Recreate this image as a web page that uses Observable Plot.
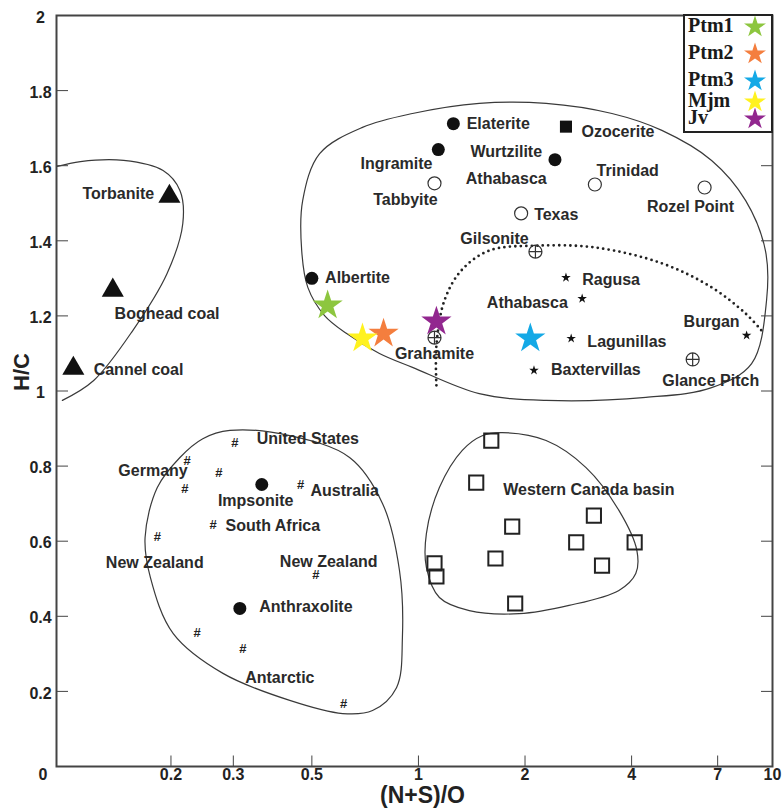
<!DOCTYPE html>
<html>
<head>
<meta charset="utf-8">
<script src="https://cdn.jsdelivr.net/npm/d3@7"></script>
<script src="https://cdn.jsdelivr.net/npm/@observablehq/plot@0.6"></script>
<style>
  body { margin: 0; background: #fff; }
  #wrap { position: relative; width: 783px; height: 812px; }
  #legend { position: absolute; left: 683px; top: 14px; width: 90px; height: 119px; box-sizing: border-box;
            border: 2px solid #222; background: #fff; }
  .lrow { position: absolute; left: 3px; font-family: "Liberation Serif", "Times New Roman", serif;
          font-weight: bold; font-size: 20px; color: #1a1a1a; line-height: 17px; }
  .lstar { position: absolute; }
</style>
</head>
<body>
<div id="wrap"></div>
<script>
// ---------- data ----------
const xTicks = [0.2, 0.3, 0.5, 1, 2, 4, 7];
const xTickLabels = [0.2, 0.3, 0.5, 1, 2, 4, 7, 10];
const yTicks = [0.2, 0.4, 0.6, 0.8, 1, 1.2, 1.4, 1.6, 1.8];
const yTickLabels = [0.2, 0.4, 0.6, 0.8, 1, 1.2, 1.4, 1.6, 1.8, 2];

// studied samples (large coloured stars)
const sampleNames  = ["Ptm1", "Ptm2", "Ptm3", "Mjm", "Jv"];
const sampleX      = [0.554, 0.797, 2.07, 0.695, 1.124];
const sampleY      = [1.228, 1.153, 1.140, 1.140, 1.185];
const sampleColors = ["#8dc63f", "#f47e3e", "#14a9e6", "#fff21f", "#92278f"];

// reference bitumens by symbol
const triangles = [ {x: 0.198, y: 1.518}, {x: 0.137, y: 1.268}, {x: 0.106, y: 1.060} ];
const filledCircles = [ {x: 1.255, y: 1.712}, {x: 1.138, y: 1.643}, {x: 2.43, y: 1.616},
                        {x: 0.50, y: 1.300}, {x: 0.361, y: 0.751}, {x: 0.313, y: 0.421} ];
const filledSquares = [ {x: 2.61, y: 1.704} ];
const openCircles = [ {x: 1.11, y: 1.553}, {x: 1.95, y: 1.473}, {x: 3.15, y: 1.550}, {x: 6.43, y: 1.542} ];
const crossedCircles = [ {x: 2.14, y: 1.371}, {x: 1.11, y: 1.142}, {x: 5.95, y: 1.084} ];
const smallStars = [ {x: 2.61, y: 1.302}, {x: 2.90, y: 1.246}, {x: 2.70, y: 1.140},
                     {x: 2.12, y: 1.055}, {x: 8.45, y: 1.148} ];
const hashes = [ {x: 0.303, y: 0.863}, {x: 0.222, y: 0.815}, {x: 0.273, y: 0.783}, {x: 0.219, y: 0.740},
                 {x: 0.465, y: 0.751}, {x: 0.263, y: 0.644}, {x: 0.183, y: 0.612}, {x: 0.513, y: 0.511},
                 {x: 0.237, y: 0.357}, {x: 0.319, y: 0.314}, {x: 0.615, y: 0.168} ];
const openSquares = [ {x: 1.606, y: 0.868}, {x: 1.456, y: 0.756}, {x: 1.84, y: 0.639}, {x: 3.13, y: 0.668},
                      {x: 2.79, y: 0.597}, {x: 4.08, y: 0.597}, {x: 1.65, y: 0.554}, {x: 3.30, y: 0.535},
                      {x: 1.11, y: 0.541}, {x: 1.124, y: 0.506}, {x: 1.876, y: 0.434} ];

// text labels
const labelNames = ["Torbanite", "Boghead coal", "Cannel coal", "Elaterite", "Ozocerite", "Ingramite",
  "Wurtzilite", "Athabasca", "Trinidad", "Tabbyite", "Texas", "Rozel Point", "Gilsonite", "Albertite",
  "Ragusa", "Athabasca", "Burgan", "Grahamite", "Lagunillas", "Baxtervillas", "Glance Pitch",
  "United States", "Germany", "Impsonite", "Australia", "South Africa", "New Zealand", "New Zealand",
  "Anthraxolite", "Antarctic", "Western Canada basin"];
const labelX = [0.142, 0.195, 0.162, 1.68, 3.66, 0.867, 1.77, 1.77, 3.90, 0.919, 2.45, 5.87, 1.64, 0.673,
  3.50, 2.03, 6.73, 1.11, 3.88, 3.17, 6.69, 0.487, 0.178, 0.347, 0.619, 0.388, 0.180, 0.558, 0.481, 0.406, 3.03];
const labelY = [1.526, 1.206, 1.057, 1.712, 1.691, 1.606, 1.638, 1.566, 1.587, 1.510, 1.470, 1.491, 1.406, 1.300,
  1.297, 1.236, 1.185, 1.100, 1.132, 1.057, 1.028, 0.873, 0.788, 0.708, 0.735, 0.642, 0.543, 0.546, 0.426, 0.237, 0.737];

// envelope outlines
const coalEnvelope = [ {x: 0.0987, y: 0.975}, {x: 0.121, y: 1.028}, {x: 0.156, y: 1.161}, {x: 0.195, y: 1.313},
  {x: 0.216, y: 1.446}, {x: 0.212, y: 1.534}, {x: 0.190, y: 1.587}, {x: 0.147, y: 1.614},
  {x: 0.111, y: 1.611}, {x: 0.0955, y: 1.598} ];
const asphaltEnvelope = [ {x: 0.468, y: 1.374}, {x: 0.487, y: 1.276}, {x: 0.543, y: 1.201}, {x: 0.627, y: 1.153},
  {x: 0.776, y: 1.100}, {x: 0.962, y: 1.063}, {x: 1.485, y: 0.993}, {x: 2.294, y: 0.975},
  {x: 4.39, y: 0.983}, {x: 6.73, y: 1.009}, {x: 8.73, y: 1.073}, {x: 9.62, y: 1.241},
  {x: 9.55, y: 1.374}, {x: 8.40, y: 1.507}, {x: 6.73, y: 1.614}, {x: 4.87, y: 1.694},
  {x: 3.52, y: 1.739}, {x: 2.294, y: 1.766}, {x: 1.485, y: 1.766}, {x: 0.962, y: 1.739},
  {x: 0.695, y: 1.702}, {x: 0.526, y: 1.632}, {x: 0.471, y: 1.507} ];
const dottedBoundary = [ {x: 1.124, y: 1.015}, {x: 1.124, y: 1.121}, {x: 1.184, y: 1.241}, {x: 1.322, y: 1.321},
  {x: 1.585, y: 1.374}, {x: 2.15, y: 1.387}, {x: 3.17, y: 1.382}, {x: 4.87, y: 1.340},
  {x: 6.73, y: 1.276}, {x: 8.40, y: 1.206}, {x: 9.31, y: 1.161} ];
const pyrobitumenEnvelope = [ {x: 0.2935, y: 0.895}, {x: 0.433, y: 0.881}, {x: 0.639, y: 0.823}, {x: 0.792, y: 0.700},
  {x: 0.884, y: 0.522}, {x: 0.901, y: 0.344}, {x: 0.867, y: 0.210}, {x: 0.742, y: 0.149},
  {x: 0.611, y: 0.141}, {x: 0.433, y: 0.176}, {x: 0.2805, y: 0.248}, {x: 0.203, y: 0.354},
  {x: 0.175, y: 0.503}, {x: 0.169, y: 0.610}, {x: 0.183, y: 0.743}, {x: 0.212, y: 0.823},
  {x: 0.246, y: 0.873} ];
const canadaEnvelope = [ {x: 1.724, y: 0.889}, {x: 2.294, y: 0.868}, {x: 2.974, y: 0.796}, {x: 3.683, y: 0.682},
  {x: 4.14, y: 0.575}, {x: 4.11, y: 0.514}, {x: 3.683, y: 0.469}, {x: 2.663, y: 0.429},
  {x: 1.925, y: 0.407}, {x: 1.392, y: 0.415}, {x: 1.146, y: 0.450}, {x: 1.053, y: 0.530},
  {x: 1.053, y: 0.620}, {x: 1.146, y: 0.743}, {x: 1.33, y: 0.842}, {x: 1.514, y: 0.881} ];

// ---------- build ----------
const samples = sampleNames.map((n, i) => ({name: n, x: sampleX[i], y: sampleY[i], color: sampleColors[i]}));
const labels = labelNames.map((n, i) => ({name: n, x: labelX[i], y: labelY[i]}));

const circlePlus = {
  draw(ctx, size) {
    const r = Math.sqrt(size / Math.PI);
    ctx.moveTo(r, 0); ctx.arc(0, 0, r, 0, 2 * Math.PI);
    ctx.moveTo(-r, 0); ctx.lineTo(r, 0);
    ctx.moveTo(0, -r); ctx.lineTo(0, r);
  }
};
// short vertical stroke used as an inward x-axis tick
const vTick = {
  draw(ctx, size) {
    const h = Math.sqrt(size / Math.PI);
    ctx.moveTo(0, -h); ctx.lineTo(0, h);
  }
};

const FONT = "'Liberation Sans', Arial, sans-serif";
const axisColor = "#444";
const envStroke = "#3a3a3a";
const noText = () => "";

const chart = Plot.plot({
  width: 783, height: 812,
  marginLeft: 56, marginRight: 11, marginTop: 15, marginBottom: 46,
  style: {fontFamily: FONT, background: "#fff", color: "#222"},
  x: {type: "log", domain: [0.095, 10], axis: null},
  y: {domain: [0, 2]},
  color: {type: "identity"},
  marks: [
    // envelopes
    Plot.line(coalEnvelope, {x: "x", y: "y", curve: "catmull-rom", stroke: envStroke, strokeWidth: 1.2}),
    Plot.line(asphaltEnvelope, {x: "x", y: "y", curve: "catmull-rom-closed", stroke: envStroke, strokeWidth: 1.2}),
    Plot.line(pyrobitumenEnvelope, {x: "x", y: "y", curve: "catmull-rom-closed", stroke: envStroke, strokeWidth: 1.2}),
    Plot.line(canadaEnvelope, {x: "x", y: "y", curve: "catmull-rom-closed", stroke: envStroke, strokeWidth: 1.2}),
    Plot.line(dottedBoundary, {x: "x", y: "y", curve: "catmull-rom", stroke: "#222", strokeWidth: 2.8,
      strokeDasharray: "0,5.5", strokeLinecap: "round"}),
    // reference symbols
    Plot.dot(triangles, {x: "x", y: "y", symbol: "triangle", r: 8.2, fill: "#111"}),
    Plot.dot(filledCircles, {x: "x", y: "y", r: 6.5, fill: "#111"}),
    Plot.dot(filledSquares, {x: "x", y: "y", symbol: "square", r: 6.8, fill: "#111"}),
    Plot.dot(openCircles, {x: "x", y: "y", r: 6.5, stroke: "#333", strokeWidth: 1.2, fill: "#fff"}),
    Plot.dot(smallStars, {x: "x", y: "y", symbol: "star", r: 3, fill: "#111"}),
    Plot.text(hashes, {x: "x", y: "y", text: () => "#", fontSize: 13, fontWeight: "bold", fill: "#222"}),
    Plot.dot(openSquares, {x: "x", y: "y", symbol: "square", r: 8, stroke: "#222", strokeWidth: 2, fill: "none"}),
    // sample stars
    Plot.dot(samples, {x: "x", y: "y", symbol: "star", r: 9.5, fill: "color"}),
    Plot.dot(crossedCircles, {x: "x", y: "y", symbol: circlePlus, r: 6.5, stroke: "#333", strokeWidth: 1.2, fill: "none"}),
    // labels
    Plot.text(labels, {x: "x", y: "y", text: "name", fontSize: 16, fontWeight: "bold", fill: "#2a2a2a"}),
    // frame & axes
    Plot.frame({stroke: axisColor, strokeWidth: 2}),
    Plot.dot(xTicks, {x: d => d, frameAnchor: "bottom", dy: -5.5, symbol: vTick, r: 5.5, stroke: axisColor, strokeWidth: 1}),
    Plot.text(xTickLabels, {x: d => d, frameAnchor: "bottom", dy: 13, text: d => String(d), fontSize: 16,
      fontWeight: "bold", fill: "#222"}),
    Plot.axisY(yTicks, {anchor: "left", tickSize: 12, dx: 12, tickFormat: noText, stroke: axisColor, label: null}),
    Plot.axisY(yTicks, {anchor: "right", tickSize: 12, dx: -12, tickFormat: noText, stroke: axisColor, label: null}),
    Plot.axisY(yTickLabels, {anchor: "left", tickSize: 0, tickPadding: 16, textAnchor: "middle", dy: 2,
      fontSize: 16, fontWeight: "bold", fill: "#222", tickFormat: d => String(d), label: null}),
    Plot.text(["0"], {frameAnchor: "bottom-left", dx: -18, dy: 13, text: d => d, fontSize: 16, fontWeight: "bold", fill: "#222"}),
    Plot.text(["(N+S)/O"], {frameAnchor: "bottom", dx: 8, dy: 36, text: d => d, fontSize: 23, fontWeight: "bold", fill: "#222"}),
    Plot.text(["H/C"], {frameAnchor: "left", dx: -35, rotate: -90, text: d => d, fontSize: 22, fontWeight: "bold", fill: "#222"})
  ]
});

const wrap = document.getElementById("wrap");
wrap.appendChild(chart);

// legend (overlaid in the top-right corner of the frame)
const legend = document.createElement("div");
legend.id = "legend";
const rowTops = [17, 44, 71, 92, 109];
samples.forEach((s, i) => {
  const t = document.createElement("div");
  t.className = "lrow";
  t.style.top = (rowTops[i] - 14 - 2) + "px";
  t.textContent = s.name;
  legend.appendChild(t);
  const ns = "http://www.w3.org/2000/svg";
  const svg = document.createElementNS(ns, "svg");
  svg.setAttribute("width", 26); svg.setAttribute("height", 26);
  svg.setAttribute("class", "lstar");
  svg.style.left = (755 - 683 - 2 - 13) + "px";
  svg.style.top = (rowTops[i] + 9 - 14 - 2 - 13) + "px";
  const p = document.createElementNS(ns, "path");
  p.setAttribute("d", d3.symbol(d3.symbolStar, 150)());
  p.setAttribute("transform", "translate(13,14)");
  p.setAttribute("fill", s.color);
  svg.appendChild(p);
  legend.appendChild(svg);
});
wrap.appendChild(legend);
</script>
</body>
</html>
